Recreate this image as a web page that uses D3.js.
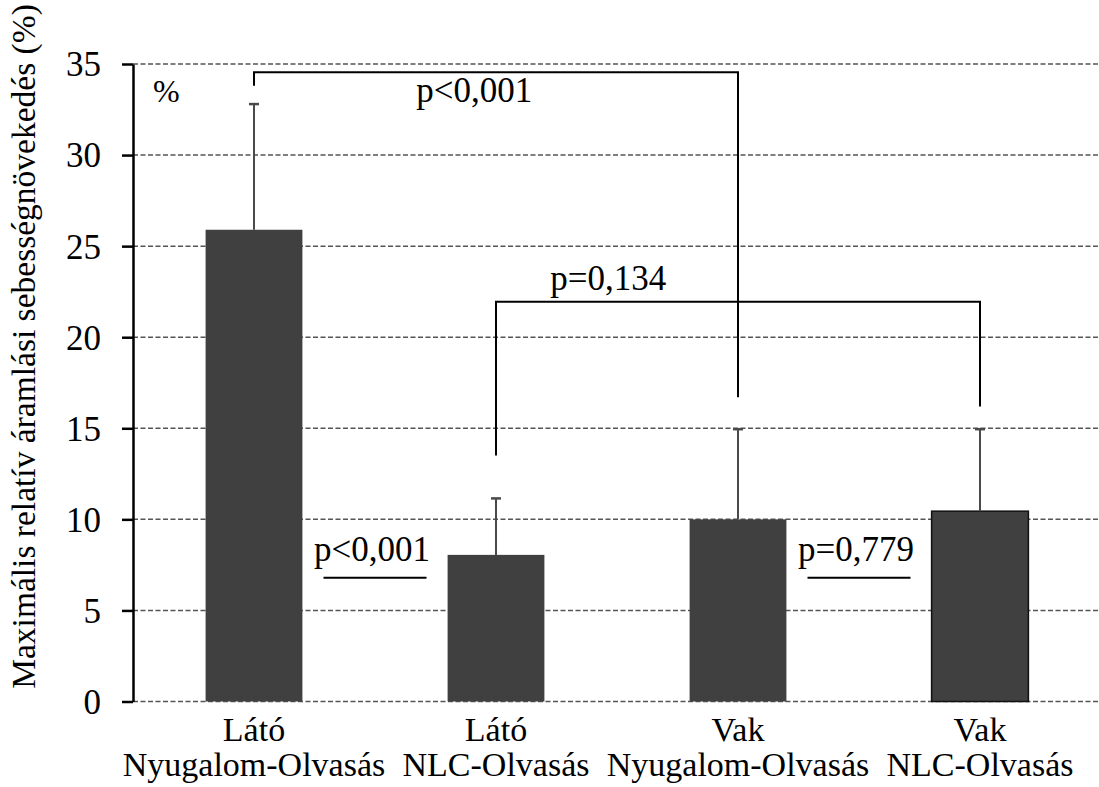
<!DOCTYPE html>
<html>
<head>
<meta charset="utf-8">
<script src="https://cdn.jsdelivr.net/npm/d3@7"></script>
<style>
  body { margin: 0; background: #fff; }
  svg text, svg tspan { font-family: "Liberation Serif", "Times New Roman", serif !important; }
</style>
</head>
<body>
<div id="chart"></div>
<script>
// categories (two-line tick labels)
const groupLabels = ["Látó", "Látó", "Vak", "Vak"];
const conditionLabels = ["Nyugalom-Olvasás", "NLC-Olvasás", "Nyugalom-Olvasás", "NLC-Olvasás"];

// mean and SD (upper error bar only)
const meanValues = [25.9, 8.05, 10.0, 10.45];
const sdValues = [6.9, 3.1, 4.95, 4.5];

const yTicks = [0, 5, 10, 15, 20, 25, 30, 35];

// significance brackets between groups (heights in %)
const bracketPairs = [[0, 2], [1, 3]];
const bracketTops = [34.55, 21.95];
const bracketLegEnds = [[33.8, 16.7], [13.5, 16.2]];
const bracketTexts = ["p<0,001", "p=0,134"];
const bracketTextAt = [0.455, 0.232];

// neighbour comparisons, drawn as underlined text
const pairPairs = [[0, 1], [2, 3]];
const pairTexts = ["p<0,001", "p=0,779"];
const pairLineAt = [6.8, 6.8];

const FONT = "Liberation Serif, Times New Roman, serif";

class BarChartD3 {
    margin = { top: 64, right: -2, bottom: 85.5, left: 133 };
    width;
    height;
    svg;
    x;
    y;

    constructor(el) {
        this.el = el;
    }

    create = function (config) {
        this.width = config.width - this.margin.left - this.margin.right;
        this.height = config.height - this.margin.top - this.margin.bottom;

        this.svg = d3.select(this.el).append("svg")
            .attr("width", config.width)
            .attr("height", config.height)
            .attr("font-family", FONT);

        this.g = this.svg.append("g")
            .attr("transform", "translate(" + this.margin.left + "," + this.margin.top + ")");

        this.x = d3.scaleBand()
            .domain(d3.range(meanValues.length))
            .range([0, this.width])
            .paddingInner(0.6)
            .paddingOuter(0.3);

        this.y = d3.scaleLinear()
            .domain([0, 35])
            .range([this.height, 0]);

        return this;
    }

    plotGrid = function () {
        this.g.append("g")
            .selectAll("line")
            .data(yTicks)
            .join("line")
            .attr("x1", 0)
            .attr("x2", this.width + 4)
            .attr("y1", d => this.y(d))
            .attr("y2", d => this.y(d))
            .attr("stroke", "#555")
            .attr("stroke-width", 1.5)
            .attr("stroke-dasharray", "5,2.5");
    }

    plotAxis = function () {
        const axis = d3.axisLeft(this.y)
            .tickValues(yTicks)
            .tickSize(11)
            .tickSizeOuter(0)
            .tickPadding(21);

        const ag = this.g.append("g").call(axis)
            .attr("font-family", FONT);
        ag.select(".domain").attr("stroke", "#000").attr("stroke-width", 2.5);
        ag.selectAll(".tick line").attr("stroke", "#000").attr("stroke-width", 2.5);
        ag.selectAll(".tick text")
            .attr("font-family", FONT)
            .style("font-size", "35px")
            .attr("dy", "0.34em")
            .attr("fill", "#000");

        // category labels, two lines each
        const lab = this.g.append("g")
            .selectAll("text")
            .data(meanValues.map((d, i) => i))
            .join("text")
            .attr("text-anchor", "middle")
            .style("font-size", "34px")
            .attr("x", i => this.x(i) + this.x.bandwidth() / 2);
        lab.append("tspan").attr("y", this.height + 39).attr("x", i => this.x(i) + this.x.bandwidth() / 2)
            .text(i => groupLabels[i]);
        lab.append("tspan").attr("y", this.height + 74).attr("x", i => this.x(i) + this.x.bandwidth() / 2)
            .text(i => conditionLabels[i]);

        // y title
        this.svg.append("text")
            .attr("transform", "translate(34.5,346.5) rotate(-90)")
            .attr("text-anchor", "middle")
            .style("font-size", "33.5px")
            .text("Maximális relatív áramlási sebességnövekedés (%)");

        this.g.append("text")
            .attr("x", 20)
            .attr("y", 38)
            .style("font-size", "32px")
            .text("%");
    }

    renderBars = function () {
        const cx = i => this.x(i) + this.x.bandwidth() / 2;

        this.g.append("g")
            .selectAll("rect")
            .data(meanValues)
            .join("rect")
            .attr("x", (d, i) => this.x(i))
            .attr("y", d => this.y(d))
            .attr("width", this.x.bandwidth())
            .attr("height", d => this.height - this.y(d))
            .attr("fill", "#404040")
            .attr("stroke", (d, i) => i === 3 ? "#111" : "none")
            .attr("stroke-width", 1.5);

        const eb = this.g.append("g").attr("stroke", "#4a4a4a");
        eb.selectAll("line.v")
            .data(meanValues)
            .join("line")
            .attr("class", "v")
            .attr("x1", (d, i) => cx(i))
            .attr("x2", (d, i) => cx(i))
            .attr("y1", d => this.y(d))
            .attr("y2", (d, i) => this.y(d + sdValues[i]))
            .attr("stroke-width", 2);
        eb.selectAll("line.c")
            .data(meanValues)
            .join("line")
            .attr("class", "c")
            .attr("x1", (d, i) => cx(i) - 5)
            .attr("x2", (d, i) => cx(i) + 5)
            .attr("y1", (d, i) => this.y(d + sdValues[i]))
            .attr("y2", (d, i) => this.y(d + sdValues[i]))
            .attr("stroke-width", 2.5);
    }

    renderBrackets = function () {
        const cx = i => this.x(i) + this.x.bandwidth() / 2;

        bracketPairs.forEach(([a, b], k) => {
            const top = this.y(bracketTops[k]);
            const path = d3.path();
            path.moveTo(cx(a), this.y(bracketLegEnds[k][0]));
            path.lineTo(cx(a), top);
            path.lineTo(cx(b), top);
            path.lineTo(cx(b), this.y(bracketLegEnds[k][1]));
            this.g.append("path")
                .attr("d", path.toString())
                .attr("fill", "none")
                .attr("stroke", "#000")
                .attr("stroke-width", 2);

            // first label sits under its bracket, second above
            this.g.append("text")
                .attr("x", cx(a) + (cx(b) - cx(a)) * bracketTextAt[k])
                .attr("y", k === 0 ? top + 30 : top - 12)
                .attr("text-anchor", "middle")
                .style("font-size", "35px")
                .text(bracketTexts[k]);
        });

        pairPairs.forEach(([a, b], k) => {
            const x0 = this.x(a) + this.x.bandwidth();
            const x1 = this.x(b);
            const mid = (x0 + x1) / 2;
            const ly = this.y(pairLineAt[k]);
            this.g.append("line")
                .attr("x1", mid - 51.5)
                .attr("x2", mid + 51.5)
                .attr("y1", ly)
                .attr("y2", ly)
                .attr("stroke", "#000")
                .attr("stroke-width", 2);
            this.g.append("text")
                .attr("x", mid - 3)
                .attr("y", ly - 17)
                .attr("text-anchor", "middle")
                .style("font-size", "35px")
                .text(pairTexts[k]);
        });
    }

    render = function () {
        this.plotGrid();
        this.renderBars();
        this.plotAxis();
        this.renderBrackets();
        return this;
    }
}

new BarChartD3(document.getElementById("chart"))
    .create({ width: 1099, height: 787 })
    .render();
</script>
</body>
</html>
